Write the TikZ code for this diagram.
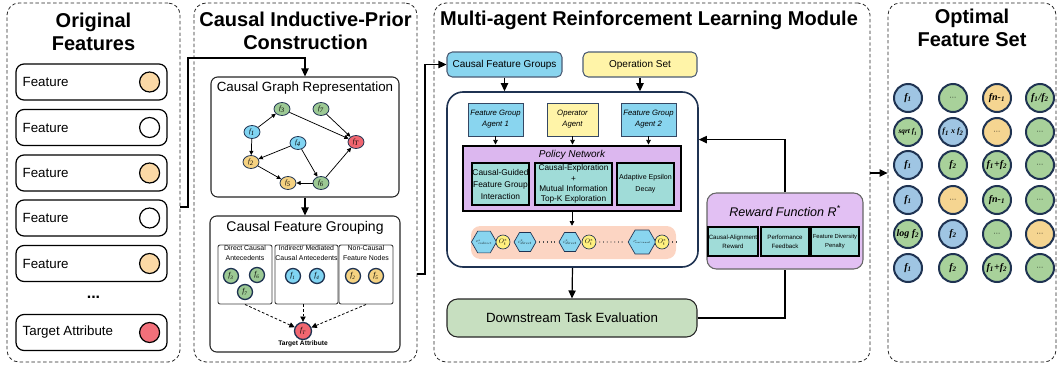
\documentclass[tikz,border=0pt]{standalone}
\usepackage{fontspec}
\usepackage{graphicx}
\setmainfont{Liberation Sans}
\newfontfamily\serifit{Liberation Serif}
\usetikzlibrary{arrows.meta,shapes.geometric,calc}
\definecolor{navy}{HTML}{1F3352}
\definecolor{fpeach}{HTML}{FBD9A6}
\definecolor{fred}{HTML}{F2707A}
\definecolor{ggreen}{HTML}{9CC994}
\definecolor{gblue}{HTML}{80D4F2}
\definecolor{gorange}{HTML}{F5D281}
\definecolor{gred}{HTML}{F06670}
\definecolor{cfgblue}{HTML}{89D5EF}
\definecolor{opyellow}{HTML}{FFF4A8}
\definecolor{polviolet}{HTML}{DCB7EF}
\definecolor{rewviolet}{HTML}{E2C0F3}
\definecolor{tealbox}{HTML}{A0DCD8}
\definecolor{seqpeach}{HTML}{FCD5C3}
\definecolor{dsgreen}{HTML}{C7DFC0}
\definecolor{seqyellow}{HTML}{FFF07F}
\definecolor{cblue}{HTML}{9FC5E3}
\definecolor{cgreen}{HTML}{A8D19A}
\definecolor{corange}{HTML}{F5D591}
\tikzset{
 sz/.style 2 args={minimum width=#1*0.75pt,minimum height=#2*0.75pt},
 panel/.style={draw=black!85,line width=0.6pt,dash pattern=on 2.6pt off 1.8pt,rounded corners=9pt,inner sep=0pt},
 ttl/.style={font=\bfseries\fontsize{15}{17.3}\selectfont,align=center,inner sep=0pt},
 fbox/.style={draw=black,line width=0.9pt,rounded corners=6pt,inner sep=0pt,fill=white},
 ftxt/.style={anchor=west,font=\fontsize{10}{12}\selectfont,inner sep=0pt},
 fcirc/.style={circle,draw=black,line width=0.9pt,minimum size=15pt,inner sep=0pt},
 conn/.style={line width=0.9pt,-{Triangle[length=6pt,width=5.5pt]}},
 plainline/.style={line width=0.9pt},
 sarr/.style={line width=0.6pt,-{Triangle[length=3.5pt,width=3.5pt]}},
 gbox/.style={draw=black!85,line width=0.8pt,rounded corners=5pt,inner sep=0pt,fill=white},
 gn/.style={ellipse,draw=navy,line width=0.6pt,sz={16}{13},inner sep=0pt,font=\serifit\itshape\fontsize{5}{5}\selectfont},
 garr/.style={line width=0.55pt,-{Triangle[length=3.2pt,width=3pt]}},
 grp/.style={draw=black!75,line width=0.7pt,rounded corners=1.5pt,inner sep=0pt},
 grpt/.style={font=\fontsize{5.2}{7.8}\selectfont,align=center,inner sep=0.5pt,anchor=north},
 gc/.style={circle,draw=navy,line width=1pt,minimum size=11.25pt,inner sep=0pt,font=\serifit\itshape\fontsize{5.5}{5.5}\selectfont},
 dashar/.style={line width=0.6pt,dashed,dash pattern=on 2pt off 1.5pt,-{Triangle[length=4pt,width=4pt]}},
 topbox/.style={draw=navy!80,line width=0.8pt,rounded corners=4pt,inner sep=0pt,font=\fontsize{7.5}{9}\selectfont},
 ag/.style={draw=navy!90,line width=0.7pt,inner sep=0pt,font=\itshape\fontsize{5.8}{8.2}\selectfont,align=center},
 tb/.style={fill=tealbox,draw=black,line width=0.8pt,inner sep=0pt,align=center},
 hexn/.style={regular polygon,regular polygon sides=6,minimum size=16.5pt,inner sep=0pt,fill=cfgblue,draw=navy,line width=0.5pt},
 oc/.style={circle,minimum size=10.5pt,inner sep=0pt,fill=seqyellow,draw=navy,line width=0.5pt},
 dotl/.style={line width=0.8pt,dash pattern=on 0.6pt off 2.2pt,draw=black!70},
 oset/.style={circle,draw=navy,line width=1.5pt,minimum size=21pt,inner sep=0pt,font=\serifit\bfseries\itshape\fontsize{7.5}{8}\selectfont}
}
\newcommand\dts{\normalfont\fontsize{5}{5}\selectfont}
\begin{document}
\begin{tikzpicture}[x=0.75pt,y=-0.75pt]
\useasboundingbox (0,0) rectangle (1060,368);

% ---------- Panel 1 ----------
\node[panel,sz={173}{359}] (p1) at (93.5,182.5) {};
\node[ttl] (t1) at (93.5,32) {Original\\Features};
\foreach \i/\y/\c in {1/82/fpeach,2/127.5/white,3/173/fpeach,4/218/white,5/263.5/fpeach}{
  \node[fbox,sz={151}{36}] (fb\i) at (91.5,\y) {};
  \node[ftxt] (ft\i) at ($(fb\i.west)+(7,0)$) {Feature};
  \node[fcirc,fill=\c] (fc\i) at ($(fb\i.east)+(-18,0)$) {};
}
\node[font=\bfseries\fontsize{12}{12}\selectfont] (dots1) at (93.5,297) {...};
\node[fbox,sz={151}{36}] (fb6) at (91.5,332.5) {};
\node[ftxt] (ft6) at ($(fb6.west)+(7,0)$) {Target Attribute};
\node[fcirc,fill=fred] (fc6) at ($(fb6.east)+(-18,0)$) {};

% ---------- Panel 2 ----------
\node[panel,sz={223}{359}] (p2) at (305.5,182.5) {};
\node[ttl] (t2) at (305.5,31) {Causal Inductive-Prior\\Construction};

\node[gbox,sz={188}{120}] (cg) at (305,137) {};
\node[font=\fontsize{10}{12}\selectfont,inner sep=0pt] (cgt) at (305,88) {Causal Graph Representation};
\node[gn,fill=ggreen] (n3) at (282,109) {f\textsubscript{3}};
\node[gn,fill=ggreen] (n7) at (321,109) {f\textsubscript{7}};
\node[gn,fill=gblue] (n1) at (252,132) {f\textsubscript{1}};
\node[gn,fill=gblue] (n4) at (298,143) {f\textsubscript{4}};
\node[gn,fill=gred] (nT) at (356,142) {f\textsubscript{T}};
\node[gn,fill=gorange] (n2) at (251,162) {f\textsubscript{2}};
\node[gn,fill=gorange] (n5) at (288,183) {f\textsubscript{5}};
\node[gn,fill=ggreen] (n6) at (321,183) {f\textsubscript{6}};
\draw[garr] (n1) -- (n3);
\draw[garr] (n1) -- (n2);
\draw[garr] (n3) -- (nT);
\draw[garr] (n7) -- (nT);
\draw[garr] (n4) -- (n2);
\draw[garr] (n4) -- (n6);
\draw[garr] (n2) -- (n5);
\draw[garr] (n6) -- (n5);
\draw[garr] (n6) -- (nT);

\node[gbox,sz={190}{136}] (cfg) at (305,284) {};
\node[font=\fontsize{10.5}{12}\selectfont,inner sep=0pt] (cfgt) at (305,228) {Causal Feature Grouping};
\draw[conn] (cg.south) -- (cfg.north);

\node[grp,sz={54}{59}] (g1) at (245,274.5) {};
\node[grp,sz={63}{59}] (g2) at (306.5,274.5) {};
\node[grp,sz={54}{59}] (g3) at (366,274.5) {};
\node[grpt] (g1t) at (g1.north) {Direct Causal\\Antecedents};
\node[grpt] (g2t) at (g2.north) {Indirect/ Mediated\\Causal Antecedents};
\node[grpt] (g3t) at (g3.north) {Non-Causal\\Feature Nodes};
\node[gc,fill=ggreen] (k3) at (231,276) {f\textsubscript{3}};
\node[gc,fill=ggreen] (k6) at (257,275) {f\textsubscript{6}};
\node[gc,fill=ggreen] (k7) at (245,292) {f\textsubscript{7}};
\node[gc,fill=gblue] (k1) at (293,276) {f\textsubscript{1}};
\node[gc,fill=gblue] (k4) at (317,276) {f\textsubscript{4}};
\node[gc,fill=gorange] (k2) at (353,276) {f\textsubscript{2}};
\node[gc,fill=gorange] (k5) at (376,276) {f\textsubscript{5}};
\node[gc,fill=gred,minimum size=12.75pt] (kT) at (303,331) {f\textsubscript{T}};
\node[font=\bfseries\fontsize{5}{5}\selectfont,inner sep=0pt] (kTt) at (303,344) {Target Attribute};
\draw[dashar] (g1.south) -- (kT);
\draw[dashar] (g2.south -| kT) -- (kT.north);
\draw[dashar] (g3.south) -- (kT);

% connector panel1 -> panel2
\coordinate (c1) at (180,207);
\draw[conn] (c1) -- (188,207) -- (188,58) -| (cg.north);

% ---------- Panel 3 ----------
\node[panel,sz={436}{359}] (p3) at (652,182.5) {};
\node[font=\bfseries\fontsize{15}{17}\selectfont,inner sep=0pt] (t3) at (649,20) {Multi-agent Reinforcement Learning Module};

\node[topbox,fill=cfgblue,sz={115}{25}] (cfgb) at (504.5,64.5) {Causal Feature Groups};
\node[topbox,fill=opyellow,sz={114}{25}] (osb) at (640,64.5) {Operation Set};

\node[draw=navy,line width=1.2pt,rounded corners=12pt,sz={251}{175},inner sep=0pt] (mb) at (572.5,179.5) {};
\draw[conn] (cfgb.south) -- (cfgb.south |- mb.north);
\draw[conn] (osb.south) -- (osb.south |- mb.north);

\node[ag,fill=cfgblue,sz={55}{33}] (a1) at (495.5,119.5) {Feature Group\\Agent 1};
\node[ag,fill=opyellow,sz={51}{33}] (a2) at (572.5,119.5) {Operator\\Agent};
\node[ag,fill=cfgblue,sz={55}{33}] (a3) at (648.5,119.5) {Feature Group\\Agent 2};

\node[fill=polviolet,draw=black,line width=2.2pt,sz={218}{65},inner sep=0pt] (pn) at (572,178.5) {};
\node[font=\itshape\fontsize{7.5}{9}\selectfont,inner sep=0pt] (pnt) at (572,155) {Policy Network};
\draw[sarr] (a1.south) -- (a1.south |- pn.north);
\draw[sarr] (a2.south) -- (a2.south |- pn.north);
\draw[sarr] (a3.south) -- (a3.south |- pn.north);
\node[tb,sz={57}{42},font=\fontsize{6.3}{9}\selectfont] (s1) at (500.5,184) {Causal-Guided\\Feature Group\\Interaction};
\node[tb,sz={77}{42},font=\fontsize{6.2}{7.6}\selectfont] (s2) at (573.5,184) {Causal-Exploration\\+\\Mutual Information\\Top-K Exploration};
\node[tb,sz={57}{42},font=\fontsize{5.3}{9}\selectfont] (s3) at (645.5,184) {Adaptive Epsilon\\Decay};

\node[fill=seqpeach,rounded corners=7pt,sz={205}{33},inner sep=0pt] (sq) at (573.5,242.5) {};
\draw[sarr] (pn.south) -- (pn.south |- sq.north);
\node[hexn] (h1) at (484,242) {\scalebox{0.34}{$c^{*}_{indirect}$}};
\node[oc] (o1) at (503,242) {\scalebox{0.5}{$O^{*}_{t}$}};
\node[hexn] (h2) at (525,242) {\scalebox{0.38}{$c^{*}_{direct}$}};
\node[hexn] (h3) at (570,242) {\scalebox{0.38}{$c^{*}_{direct}$}};
\node[oc] (o2) at (589,242) {\scalebox{0.5}{$O^{*}_{t}$}};
\node[hexn] (h4) at (642,242) {\scalebox{0.28}{$c^{*}_{non\mbox{-}causal}$}};
\node[oc] (o3) at (662,242) {\scalebox{0.5}{$O^{*}_{t}$}};
\coordinate (dend) at (677,242);
\draw[dotl] ($(h2.east)+(3,0)$) -- ($(h3.west)+(-3,0)$);
\draw[dotl] ($(o2.east)+(3,0)$) -- ($(h4.west)+(-3,0)$);
\draw[dotl] ($(o3.east)+(3,0)$) -- (dend);

\node[fill=dsgreen,draw=black!85,line width=0.8pt,rounded corners=8pt,sz={250}{38},inner sep=0pt,font=\fontsize{10}{12}\selectfont] (ds) at (572,318) {Downstream Task Evaluation};
\draw[conn] (mb.south) -- (ds.north);

\node[fill=rewviolet,draw=black!60,line width=0.8pt,rounded corners=7pt,sz={156}{76},inner sep=0pt] (rw) at (785,231) {};
\node[font=\itshape\fontsize{9.4}{11}\selectfont,inner sep=0pt] (rwt) at (785,211) {Reward Function R\textsuperscript{*}};
\node[tb,sz={50}{29},font=\fontsize{4.6}{7}\selectfont] (r1) at (733,241.5) {Causal-Alignment\\Reward};
\node[tb,sz={48}{29},font=\fontsize{4.6}{7}\selectfont] (r2) at (785,241.5) {Performance\\Feedback};
\node[tb,sz={48}{29},font=\fontsize{4.4}{7}\selectfont] (r3) at (835,241.5) {Feature Diversity\\Penalty};
\draw[plainline] (ds.east) -| (rw.south);
\coordinate (fbk) at ($(mb.north east)!0.274!(mb.south east)$);
\draw[conn] (rw.north) |- (fbk);

% connector panel2 -> panel3
\coordinate (c2) at (417,274);
\draw[conn] (c2) -- (425,274) |- (cfgb.west);

% ---------- Panel 4 ----------
\node[panel,sz={168}{359}] (p4) at (972,182.5) {};
\node[ttl] (t4) at (972,28) {Optimal\\Feature Set};
\coordinate (c3) at (870,173);
\draw[conn] (c3) -- (c3 -| p4.west);

% row 1
\node[oset,fill=cblue] (q11) at (908,98) {f\textsubscript{1}};
\node[oset,fill=cgreen] (q12) at (953,98) {\dts ···};
\node[oset,fill=corange] (q13) at (997,98) {fn-\textsubscript{1}};
\node[oset,fill=cgreen] (q14) at (1040,98) {f\textsubscript{1}/f\textsubscript{2}};
% row 2
\node[oset,fill=cgreen,font=\serifit\bfseries\itshape\fontsize{5.5}{6}\selectfont] (q21) at (908,132) {sqrt f\textsubscript{1}};
\node[oset,fill=cblue,font=\serifit\bfseries\itshape\fontsize{6}{6}\selectfont] (q22) at (953,132) {f\textsubscript{1} x f\textsubscript{2}};
\node[oset,fill=corange] (q23) at (997,132) {\dts ···};
\node[oset,fill=cgreen] (q24) at (1040,132) {\dts ···};
% row 3
\node[oset,fill=cblue] (q31) at (908,165) {f\textsubscript{1}};
\node[oset,fill=cgreen] (q32) at (953,165) {f\textsubscript{2}};
\node[oset,fill=cgreen] (q33) at (997,165) {f\textsubscript{1}+f\textsubscript{2}};
\node[oset,fill=cgreen] (q34) at (1040,165) {\dts ···};
% row 4
\node[oset,fill=cblue] (q41) at (908,200) {f\textsubscript{1}};
\node[oset,fill=corange] (q42) at (953,200) {\dts ···};
\node[oset,fill=cgreen] (q43) at (997,200) {fn-\textsubscript{1}};
\node[oset,fill=cgreen] (q44) at (1040,200) {\dts ···};
% row 5
\node[oset,fill=cgreen] (q51) at (908,234) {log f\textsubscript{2}};
\node[oset,fill=cblue] (q52) at (953,234) {f\textsubscript{2}};
\node[oset,fill=cgreen] (q53) at (997,234) {\dts ···};
\node[oset,fill=corange] (q54) at (1040,234) {\dts ···};
% row 6
\node[oset,fill=cblue] (q61) at (908,268) {f\textsubscript{1}};
\node[oset,fill=cgreen] (q62) at (953,268) {f\textsubscript{2}};
\node[oset,fill=cgreen] (q63) at (997,268) {f\textsubscript{1}+f\textsubscript{2}};
\node[oset,fill=cgreen] (q64) at (1040,268) {\dts ···};
\end{tikzpicture}
\end{document}
